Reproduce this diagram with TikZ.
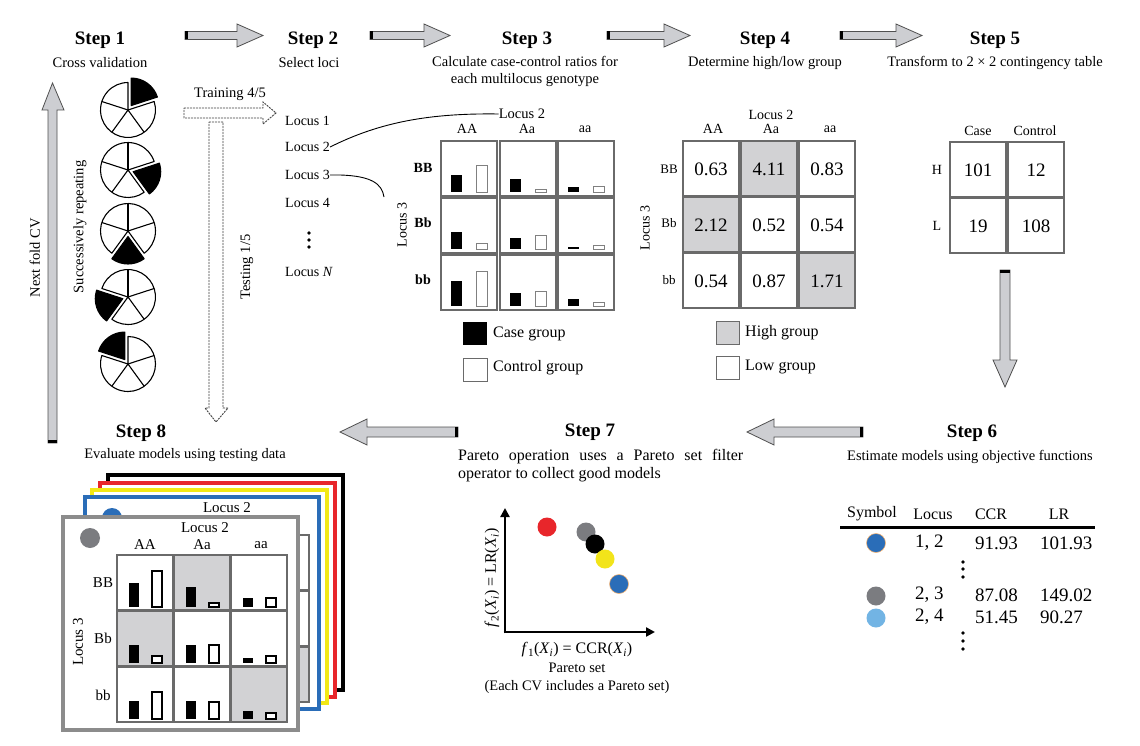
\documentclass[tikz,border=0pt]{standalone}
\usepackage{fontspec}
\setmainfont{Liberation Serif}
\usetikzlibrary{arrows.meta}
\definecolor{arrowfill}{HTML}{CDCED2}
\definecolor{arrowline}{HTML}{505050}
\definecolor{cellline}{HTML}{6A6A6A}
\definecolor{highfill}{HTML}{D2D2D4}
\definecolor{dotblue}{HTML}{2A6DB8}
\definecolor{dotlight}{HTML}{72B4E4}
\definecolor{dotgray}{HTML}{7B7C80}
\definecolor{dotred}{HTML}{E8262B}
\definecolor{dotyellow}{HTML}{F2E41A}
\definecolor{framegray}{HTML}{8C8C8C}
\definecolor{framered}{HTML}{E8262B}
\definecolor{frameyellow}{HTML}{F2E816}
\definecolor{frameblue}{HTML}{2A6DB8}
\newcommand{\fsz}[1]{\fontsize{#1}{#1}\selectfont}
\newcommand{\blockR}[3]{%
  \draw[blockarrow] (#1,#3-4) -- (#2-26,#3-4) -- (#2-26,#3-11.5) -- (#2,#3) -- (#2-26,#3+11.5) -- (#2-26,#3+4) -- (#1,#3+4) -- cycle;
  \fill[black] (#1,#3-4) rectangle (#1+3,#3+4);}
\newcommand{\blockL}[3]{%
  \draw[blockarrow] (#2,#3-5) -- (#1+27,#3-5) -- (#1+27,#3-13) -- (#1,#3) -- (#1+27,#3+13) -- (#1+27,#3+5) -- (#2,#3+5) -- cycle;
  \fill[black] (#2-3,#3-5) rectangle (#2,#3+5);}
\newcommand{\cardcontent}[2]{%
  \fill[#2] (90,538) circle[radius=10];
  \node[cardlbl] (#1locA) at (205,528) {Locus 2};
  \node[cardlbl] (#1cAA) at (145,545) {AA};
  \node[cardlbl] (#1cAa) at (202,545) {Aa};
  \node[cardlbl] (#1caa) at (261,545) {aa};
  \node[cardlbl] (#1rBB) at (103,583) {BB};
  \node[cardlbl] (#1rBb) at (103,638) {Bb};
  \node[cardlbl] (#1rbb) at (103,695) {bb};
  \node[cardlbl, rotate=90] (#1locB) at (78,642) {Locus 3};
  \foreach \cx/\ry in {174/555,117/611,231/667} \fill[highfill] (\cx,\ry) rectangle ++(56,55);
  \foreach \cx in {117,174,231} \foreach \ry in {555,611,667} \draw[cardcell] (\cx,\ry) rectangle ++(56,55);
  \foreach \cx/\ry/\ca/\co in {117/555/24/36,174/555/20/4,231/555/9/9,
      117/611/18/7,174/611/18/18,231/611/5/7,
      117/667/18/27,174/667/18/17,231/667/8/6}{
    \fill[black] (\cx+12,\ry+52) rectangle ++(10,-\ca);
    \draw[cardctrl] (\cx+35,\ry+52) rectangle ++(10,-\co);}
}
\begin{document}
\begin{tikzpicture}[x=1pt,y=-1pt,
  steptitle/.style={font=\fsz{19}\bfseries, inner sep=0},
  subtitle/.style={font=\fsz{14.5}, inner sep=0, align=center},
  lbl/.style={font=\fsz{14}, inner sep=0},
  val/.style={font=\fsz{19}, inner sep=0},
  cardlbl/.style={font=\fsz{15}, inner sep=0},
  blockarrow/.style={fill=arrowfill, draw=arrowline, line width=0.8pt},
  hollowarrow/.style={fill=white, draw=black!75, dash pattern=on 2pt off 1pt, line width=0.9pt},
  cellbox/.style={draw=cellline, line width=1.2pt},
  cardcell/.style={draw=cellline, line width=1.4pt},
  ctrlbar/.style={draw=gray, fill=white, line width=0.8pt},
  cardctrl/.style={draw=black, fill=white, line width=1.1pt},
  pieline/.style={draw=black, line width=1.1pt, line join=round},
  dot/.style={circle, inner sep=0, minimum size=19pt},
  framebox/.style={line width=4.5pt, fill=white}]
\fill[white] (0,0) rectangle (1140,746);
\useasboundingbox (0,0) rectangle (1140,746);

% ---------- titles ----------
\node[steptitle] (s1) at (100,40) {Step 1};
\node[subtitle] (s1t) at (100,63) {Cross validation};
\node[steptitle] (s2) at (313,40) {Step 2};
\node[subtitle] (s2t) at (309,63) {Select loci};
\node[steptitle] (s3) at (527,40) {Step 3};
\node[subtitle, font=\fontsize{14.5}{17}\selectfont] (s3t) at (525,71) {Calculate case-control ratios for\\each multilocus genotype};
\node[steptitle] (s4) at (765,40) {Step 4};
\node[subtitle] (s4t) at (765,63) {Determine high/low group};
\node[steptitle] (s5) at (995,40) {Step 5};
\node[subtitle] (s5t) at (995,63) {Transform to 2 × 2 contingency table};
\node[steptitle] (s6) at (972,433) {Step 6};
\node[subtitle] (s6t) at (970,457) {Estimate models using objective functions};
\node[steptitle] (s7) at (590,432) {Step 7};
\node[anchor=north west, inner sep=0, text width=285pt, align=justify,
      font=\fontsize{16}{18.5}\selectfont] (s7t) at (458,449)
      {Pareto operation uses a Pareto set filter \mbox{operator} to collect good models};
\node[steptitle] (s8) at (141,433) {Step 8};
\node[subtitle] (s8t) at (185,455) {Evaluate models using testing data};

% ---------- block arrows ----------
\blockR{185}{263}{35.5}
\blockR{370}{450}{35.5}
\blockR{607}{690}{35.5}
\blockR{840}{922}{35.5}
\blockL{340}{458}{432}
\blockL{747}{863}{432}
% down arrow step5 -> step6
\draw[blockarrow] (1000,270) -- (1010,270) -- (1010,360) -- (1017,360) -- (1005,387) -- (993,360) -- (1000,360) -- cycle;
\fill[black] (1000,270) rectangle (1010,273);
% up arrow next fold CV
\draw[blockarrow] (48,443) -- (48,110) -- (42,110) -- (52.5,83) -- (64,110) -- (57,110) -- (57,443) -- cycle;
\fill[black] (48,440) rectangle (57,443);
\node[font=\fsz{14.5}, rotate=90, inner sep=0] (nextcv) at (35,258) {Next fold CV};
\node[font=\fsz{14.5}, rotate=90, inner sep=0] (succ) at (80,227) {Successively repeating};

% ---------- pies ----------
\foreach \k/\cy in {0/110,1/170,2/231,3/297,4/364}{
  \pgfmathsetmacro\a{-18+72*\k}
  \pgfmathsetmacro\b{\a+288}
  \pgfmathsetmacro\m{\a-36}
  \pgfmathsetmacro\c{\a-72}
  \draw[pieline, fill=white] (128,\cy) -- ++(\a:27.5) arc[start angle=\a, end angle=\b, radius=27.5] -- cycle;
  \foreach \j in {1,2,3}{
    \pgfmathsetmacro\d{\a+72*\j}
    \draw[pieline] (128,\cy) -- ++(\d:27.5);}
  \draw[pieline, fill=black] ([shift={(\m:5.5)}]128,\cy) -- ++(\c:27.5) arc[start angle=\c, end angle=\a, radius=27.5] -- cycle;
}

% ---------- training / testing ----------
\draw[hollowarrow] (184,108) -- (263,108) -- (263,102) -- (276,113) -- (263,124) -- (263,118) -- (184,118) -- cycle;
\node[font=\fsz{14.5}, inner sep=0] (train) at (230,94) {Training 4/5};
\draw[hollowarrow] (209,122) -- (223,122) -- (223,408) -- (228,408) -- (216,422) -- (205,408) -- (209,408) -- cycle;
\node[font=\fsz{14.5}, rotate=90, inner sep=0] (test) at (247,267) {Testing 1/5};

% ---------- loci ----------
\node[lbl, anchor=west] (l1) at (285,121) {Locus 1};
\node[lbl, anchor=west] (l2) at (285,147) {Locus 2};
\node[lbl, anchor=west] (l3) at (285,175) {Locus 3};
\node[lbl, anchor=west] (l4) at (285,203) {Locus 4};
\node[lbl, anchor=west] (lN) at (285,272) {Locus \textit{N}};
\foreach \yy in {233,240,247} \fill (309,\yy) circle[radius=1.8];

% ---------- step 3 grid ----------
\node[lbl, font=\fsz{14.5}] (g3l2) at (522,114) {Locus 2};
\draw[line width=0.9pt] (l2.east) .. controls (380,122) and (430,113) .. (g3l2.west);
\coordinate (l3end) at (384,197);
\draw[line width=0.9pt] (l3.east) -- ++(10,0) .. controls (372,176) and (382,184) .. (l3end);
\node[lbl] (g3AA) at (467,129) {AA};
\node[lbl] (g3Aa) at (527,129) {Aa};
\node[lbl] (g3aa) at (585,129) {aa};
\node[lbl, font=\fsz{14}\bfseries] (g3BB) at (423,168) {BB};
\node[lbl, font=\fsz{14}\bfseries] (g3Bb) at (423,223) {Bb};
\node[lbl, font=\fsz{14}\bfseries] (g3bb) at (423,280) {bb};
\node[lbl, rotate=90] (g3l3) at (402,225) {Locus 3};
\foreach \cx in {441,500,558} \foreach \ry in {141,198,255} \draw[cellbox] (\cx,\ry) rectangle ++(56,55);
\foreach \cx/\ry/\ca/\co in {441/141/17/27,500/141/13/3,558/141/5/6,
    441/198/17/6,500/198/11/14,558/198/2/4,
    441/255/25/35,500/255/13/15,558/255/7/4}{
  \fill[black] (\cx+10,\ry+51) rectangle ++(11,-\ca);
  \draw[ctrlbar] (\cx+35,\ry+51) rectangle ++(11,-\co);}
\fill[black] (463,322) rectangle (487,345);
\node[font=\fsz{16}, anchor=west, inner sep=0] (casel) at (493,334) {Case group};
\draw[cellline, line width=1pt] (463,358) rectangle (487,381);
\node[font=\fsz{16}, anchor=west, inner sep=0] (ctrll) at (493,368) {Control group};

% ---------- step 4 grid ----------
\node[lbl] (g4l2) at (771,115) {Locus 2};
\node[lbl] (g4AA) at (713,129) {AA};
\node[lbl] (g4Aa) at (771,129) {Aa};
\node[lbl] (g4aa) at (830,129) {aa};
\node[lbl, font=\fsz{13}] (g4BB) at (669,169) {BB};
\node[lbl, font=\fsz{13}] (g4Bb) at (669,223) {Bb};
\node[lbl, font=\fsz{13}] (g4bb) at (669,280) {bb};
\node[lbl, rotate=90] (g4l3) at (645,228) {Locus 3};
\foreach \cx/\ry in {741/141,683/197,799/253} \fill[highfill] (\cx,\ry) rectangle ++(56,55);
\foreach \cx in {683,741,799} \foreach \ry in {141,197,253} \draw[cellbox] (\cx,\ry) rectangle ++(56,55);
\foreach \cx/\ry/\v [count=\i] in {683/141/0.63,741/141/4.11,799/141/0.83,
    683/197/2.12,741/197/0.52,799/197/0.54,
    683/253/0.54,741/253/0.87,799/253/1.71}
  \node[val] (v\i) at (\cx+28,\ry+28) {\v};
\fill[highfill] (716,321) rectangle (739,344);
\draw[cellline, line width=1pt] (716,321) rectangle (739,344);
\node[font=\fsz{16}, anchor=west, inner sep=0] (highl) at (745,333) {High group};
\draw[cellline, line width=1pt] (716,356) rectangle (739,379);
\node[font=\fsz{16}, anchor=west, inner sep=0] (lowl) at (745,367) {Low group};

% ---------- step 5 table ----------
\node[lbl] (t5case) at (978,131) {Case};
\node[lbl] (t5ctrl) at (1035,131) {Control};
\node[lbl] (t5H) at (937,170) {H};
\node[lbl] (t5L) at (937,226) {L};
\foreach \cx in {950,1008} \foreach \ry in {142,198} \draw[cellbox] (\cx,\ry) rectangle ++(56,55);
\node[val] (t5a) at (978,170) {101};
\node[val] (t5b) at (1036,170) {12};
\node[val] (t5c) at (978,226) {19};
\node[val] (t5d) at (1036,226) {108};

% ---------- step 6 table ----------
\node[font=\fsz{16}, inner sep=0] (h1) at (872,514) {Symbol};
\node[font=\fsz{16}, inner sep=0] (h2) at (933,514) {Locus};
\node[font=\fsz{16}, inner sep=0] (h3) at (991,514) {CCR};
\node[font=\fsz{16}, inner sep=0] (h4) at (1059,514) {LR};
\draw[line width=3pt] (840,527) -- (1095,527);
\node[dot, fill=dotblue, draw=orange!60, line width=0.5pt] (sy1) at (876,543) {};
\node[val, anchor=west] (lo1) at (915,543) {1, 2};
\node[val, anchor=west] (cc1) at (975,543) {91.93};
\node[val, anchor=west] (lr1) at (1040,543) {101.93};
\foreach \yy in {562,569,577} \fill (963,\yy) circle[radius=1.8];
\node[dot, fill=dotgray] (sy2) at (876,596) {};
\node[val, anchor=west] (lo2) at (915,595) {2, 3};
\node[val, anchor=west] (cc2) at (975,595) {87.08};
\node[val, anchor=west] (lr2) at (1040,595) {149.02};
\node[dot, fill=dotlight] (sy3) at (876,618) {};
\node[val, anchor=west] (lo3) at (915,617) {2, 4};
\node[val, anchor=west] (cc3) at (975,617) {51.45};
\node[val, anchor=west] (lr3) at (1040,617) {90.27};
\foreach \yy in {633,641,649} \fill (963,\yy) circle[radius=1.8];

% ---------- step 7 plot ----------
\coordinate (o) at (505,632);
\coordinate (ytip) at (505,508);
\coordinate (xtip) at (655,632);
\draw[line width=2.6pt, -{Triangle[length=9pt,width=9pt]}] ([yshift=-1.3pt]o) -- (ytip);
\draw[line width=2.6pt, -{Triangle[length=9pt,width=9pt]}] ([xshift=-1.3pt]o) -- (xtip);
\node[dot, fill=dotred] (p1) at (547,527) {};
\node[dot, fill=dotgray] (p2) at (586,532) {};
\node[dot, fill=black] (p3) at (595,544) {};
\node[dot, fill=dotyellow] (p4) at (605,559) {};
\node[dot, fill=dotblue, draw=orange!60, line width=0.5pt] (p5) at (619,584) {};
\node[font=\fsz{16}, rotate=90, inner sep=0] (ylab) at (492,578) {\textit{f}\textsubscript{2}(\textit{X}\textsubscript{\textit{i}}) = LR(\textit{X}\textsubscript{\textit{i}})};
\node[font=\fsz{16}, inner sep=0] (xlab) at (577,650) {\textit{f}\textsubscript{1}(\textit{X}\textsubscript{\textit{i}}) = CCR(\textit{X}\textsubscript{\textit{i}})};
\node[subtitle] (pset) at (577,668) {Pareto set};
\node[subtitle] (pset2) at (577,687) {(Each CV includes a Pareto set)};

% ---------- step 8 cards ----------
\draw[framebox, draw=black] (108,475) rectangle (343,690);
\draw[framebox, draw=framered] (100,483) rectangle (335,697);
\draw[framebox, draw=frameyellow] (92,490) rectangle (327,703);
\draw[framebox, draw=frameblue] (85,497) rectangle (319,709);
\begin{scope}[shift={(22,-20)}]
  \cardcontent{b}{dotblue}
\end{scope}
\draw[line width=4pt, draw=framegray, fill=white] (63,517) rectangle (298,730);
\cardcontent{f}{dotgray}
\end{tikzpicture}
\end{document}
